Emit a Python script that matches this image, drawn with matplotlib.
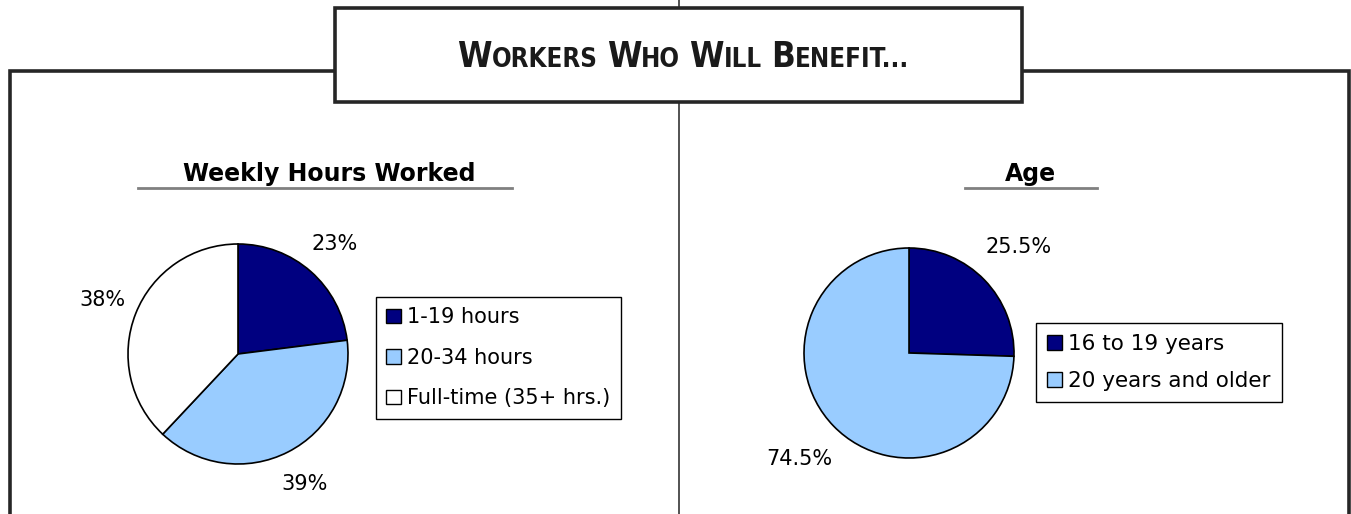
import matplotlib
matplotlib.use('Agg')
import matplotlib.pyplot as plt
from matplotlib.patches import Rectangle, Patch

# Data
hours_labels = ['1-19 hours', '20-34 hours', 'Full-time (35+ hrs.)']
hours_values = [23, 39, 38]
hours_colors = ['#000080', '#99CCFF', '#FFFFFF']

age_labels = ['16 to 19 years', '20 years and older']
age_values = [25.5, 74.5]
age_colors = ['#000080', '#99CCFF']

title_words = ['Workers', 'Who', 'Will', 'Benefit...']

W, H = 1351, 514
fig = plt.figure(figsize=(W / 100, H / 100), dpi=100)
fig.patch.set_facecolor('white')

# background axes in pixel coordinates for the frame and boxes
bg = fig.add_axes([0, 0, 1, 1])
bg.set_xlim(0, W)
bg.set_ylim(H, 0)
bg.axis('off')

frame_col = '#262626'
bg.plot([679, 679], [0, H], color='#444444', lw=1.3, zorder=1)
bg.plot([10, 10, 335], [H, 71, 71], color=frame_col, lw=2.6, zorder=1, solid_joinstyle='miter')
bg.plot([1022, 1349, 1349], [71, 71, H], color=frame_col, lw=2.6, zorder=1, solid_joinstyle='miter')
bg.add_patch(Rectangle((335, 8), 687, 94, facecolor='white', edgecolor=frame_col, lw=2.6, zorder=2))

# subtitles with grey underline
bg.text(329, 181, 'Weekly Hours Worked', ha='center', va='baseline', fontsize=17,
        fontweight='bold', zorder=3)
bg.plot([138, 512], [188, 188], color='#808080', lw=2, zorder=3)
bg.text(1030, 181, 'Age', ha='center', va='baseline', fontsize=17, fontweight='bold', zorder=3)
bg.plot([965, 1097], [188, 188], color='#808080', lw=2, zorder=3)

# small caps title
fig.canvas.draw()
renderer = fig.canvas.get_renderer()
big, small = 25, 18.5
pieces = []
for wi, word in enumerate(title_words):
    pieces.append((word[0].upper(), big))
    pieces.append((word[1:].upper(), small))
    if wi < len(title_words) - 1:
        pieces.append((None, 0))
texts = []
widths = []
for s, size in pieces:
    if s is None:
        texts.append(None)
        widths.append(9)
        continue
    t = bg.text(0, 67, s, fontsize=size, family='DejaVu Sans', fontstretch='condensed',
                fontweight='bold', ha='left', va='baseline', zorder=4, color='#1a1a1a')
    bb = t.get_window_extent(renderer)
    texts.append(t)
    widths.append(bb.width)
total = sum(widths)
x = 683 - total / 2
for t, w in zip(texts, widths):
    if t is not None:
        t.set_x(x)
    x += w


def pct_fmt(p):
    return '{:g}%'.format(round(p, 1))


def pie_axes(cx, cy, r):
    ax = fig.add_axes([(cx - r) / W, 1 - (cy + r) / H, 2 * r / W, 2 * r / H])
    ax.set_zorder(5)
    return ax


# Weekly hours pie
ax1 = pie_axes(238, 354, 110)
ax1.pie(hours_values, colors=hours_colors, startangle=90, counterclock=False,
        wedgeprops=dict(edgecolor='black', linewidth=1.2),
        autopct=pct_fmt, pctdistance=1.33, textprops=dict(fontsize=15))
ax1.set_xlim(-1, 1)
ax1.set_ylim(-1, 1)
handles1 = [Patch(facecolor=c, edgecolor='black', lw=1) for c in hours_colors]
leg1 = fig.legend(handles1, hours_labels, loc='upper left',
                  bbox_to_anchor=(376 / W, 1 - 297 / H), borderaxespad=0,
                  fontsize=15, handlelength=0.7, handleheight=0.7, handletextpad=0.3,
                  labelspacing=0.98, fancybox=False, framealpha=1, edgecolor='black',
                  borderpad=0.5)
leg1.get_frame().set_linewidth(1)

# Age pie
ax2 = pie_axes(909, 353, 105)
ax2.pie(age_values, colors=age_colors, startangle=90, counterclock=False,
        wedgeprops=dict(edgecolor='black', linewidth=1.2),
        autopct=pct_fmt, pctdistance=1.45, textprops=dict(fontsize=15))
ax2.set_xlim(-1, 1)
ax2.set_ylim(-1, 1)
handles2 = [Patch(facecolor=c, edgecolor='black', lw=1) for c in age_colors]
leg2 = fig.legend(handles2, age_labels, loc='upper left',
                  bbox_to_anchor=(1036 / W, 1 - 323 / H), borderaxespad=0,
                  fontsize=15.5, handlelength=0.7, handleheight=0.7, handletextpad=0.3,
                  labelspacing=0.8, fancybox=False, framealpha=1, edgecolor='black',
                  borderpad=0.5)
leg2.get_frame().set_linewidth(1)

fig.savefig('out.png', dpi=100)
